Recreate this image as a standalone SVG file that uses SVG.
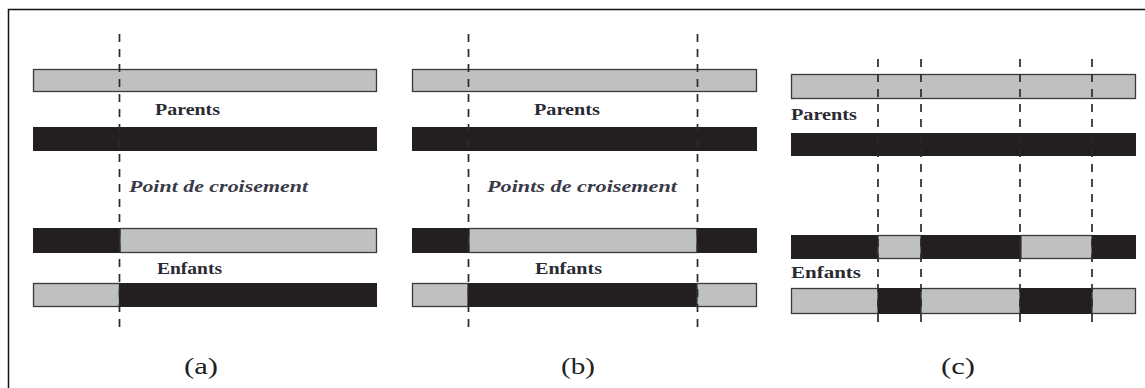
<svg xmlns="http://www.w3.org/2000/svg" width="1145" height="388" viewBox="0 0 1145 388">
<style>
.g{fill:#bfc0c2;stroke:#3a3a3a;stroke-width:1.3}
.k{fill:#231f20}
.d{stroke:#2a2a2a;stroke-width:1.7;stroke-dasharray:8,7;fill:none}
.lb{font-family:"Liberation Serif","Times New Roman",Times,serif;font-weight:bold;font-size:17px;fill:#2a2a33}
.it{font-family:"Liberation Serif","Times New Roman",Times,serif;font-style:italic;font-weight:bold;font-size:17px;fill:#3a3a48}
.cap{font-family:"Liberation Serif","Times New Roman",Times,serif;font-size:24px;fill:#222}
</style>
<rect x="0" y="0" width="1145" height="388" fill="#fff"/>
<path d="M8.5,400 V9.5 H1150" fill="none" stroke="#111" stroke-width="1.5"/>

<g id="panel-a">
  <rect class="g" x="33.5" y="69.5" width="343" height="22"/>
  <text class="lb" x="155" y="115" textLength="65" lengthAdjust="spacingAndGlyphs">Parents</text>
  <rect class="k" x="33" y="127" width="344" height="24"/>
  <text class="it" x="129" y="192" textLength="179" lengthAdjust="spacingAndGlyphs">Point de croisement</text>
  <rect class="k" x="33" y="228" width="87" height="25"/>
  <rect class="g" x="120" y="228.5" width="256.5" height="24"/>
  <text class="lb" x="157" y="274" textLength="65" lengthAdjust="spacingAndGlyphs">Enfants</text>
  <rect class="g" x="33.5" y="283.5" width="86" height="23"/>
  <rect class="k" x="119" y="283" width="258" height="24"/>
  <text class="cap" x="201" y="374" text-anchor="middle" textLength="34" lengthAdjust="spacingAndGlyphs">(a)</text>
</g>

<g id="panel-b">
  <rect class="g" x="412.5" y="69.5" width="344" height="22"/>
  <text class="lb" x="534" y="115" textLength="66" lengthAdjust="spacingAndGlyphs">Parents</text>
  <rect class="k" x="412" y="127" width="345" height="24"/>
  <text class="it" x="487" y="192" textLength="190" lengthAdjust="spacingAndGlyphs">Points de croisement</text>
  <rect class="k" x="412" y="228" width="57" height="25"/>
  <rect class="g" x="469" y="228.5" width="228" height="24"/>
  <rect class="k" x="697" y="228" width="60" height="25"/>
  <text class="lb" x="535" y="274" textLength="67" lengthAdjust="spacingAndGlyphs">Enfants</text>
  <rect class="g" x="412.5" y="283.5" width="55.5" height="23"/>
  <rect class="k" x="468" y="283" width="229" height="24"/>
  <rect class="g" x="697" y="283.5" width="59.5" height="23"/>
  <text class="cap" x="578" y="374" text-anchor="middle" textLength="34" lengthAdjust="spacingAndGlyphs">(b)</text>
</g>

<g id="panel-c">
  <rect class="g" x="791.5" y="74.5" width="344" height="24"/>
  <text class="lb" x="791" y="120" textLength="66" lengthAdjust="spacingAndGlyphs">Parents</text>
  <rect class="k" x="791" y="133" width="345" height="23"/>
  <rect class="k" x="791" y="235" width="87" height="24"/>
  <rect class="g" x="878" y="235.5" width="43" height="23"/>
  <rect class="k" x="921" y="235" width="100" height="24"/>
  <rect class="g" x="1021" y="235.5" width="71" height="23"/>
  <rect class="k" x="1092" y="235" width="44" height="24"/>
  <text class="lb" x="791" y="278" textLength="70" lengthAdjust="spacingAndGlyphs">Enfants</text>
  <rect class="g" x="791.5" y="288.5" width="86.5" height="25"/>
  <rect class="k" x="878" y="288" width="43" height="26"/>
  <rect class="g" x="921" y="288.5" width="99" height="25"/>
  <rect class="k" x="1020" y="288" width="72" height="26"/>
  <rect class="g" x="1092" y="288.5" width="43.5" height="25"/>
  <text class="cap" x="958" y="374" text-anchor="middle" textLength="34" lengthAdjust="spacingAndGlyphs">(c)</text>
</g>

<g id="connectors">
  <line class="d" x1="119.5" y1="34" x2="119.5" y2="329"/>
  <line class="d" x1="468.5" y1="34" x2="468.5" y2="329"/>
  <line class="d" x1="697.5" y1="34" x2="697.5" y2="329"/>
  <line class="d" x1="878" y1="59" x2="878" y2="326"/>
  <line class="d" x1="921" y1="59" x2="921" y2="326"/>
  <line class="d" x1="1020" y1="59" x2="1020" y2="326"/>
  <line class="d" x1="1092" y1="59" x2="1092" y2="326"/>
</g>
</svg>
